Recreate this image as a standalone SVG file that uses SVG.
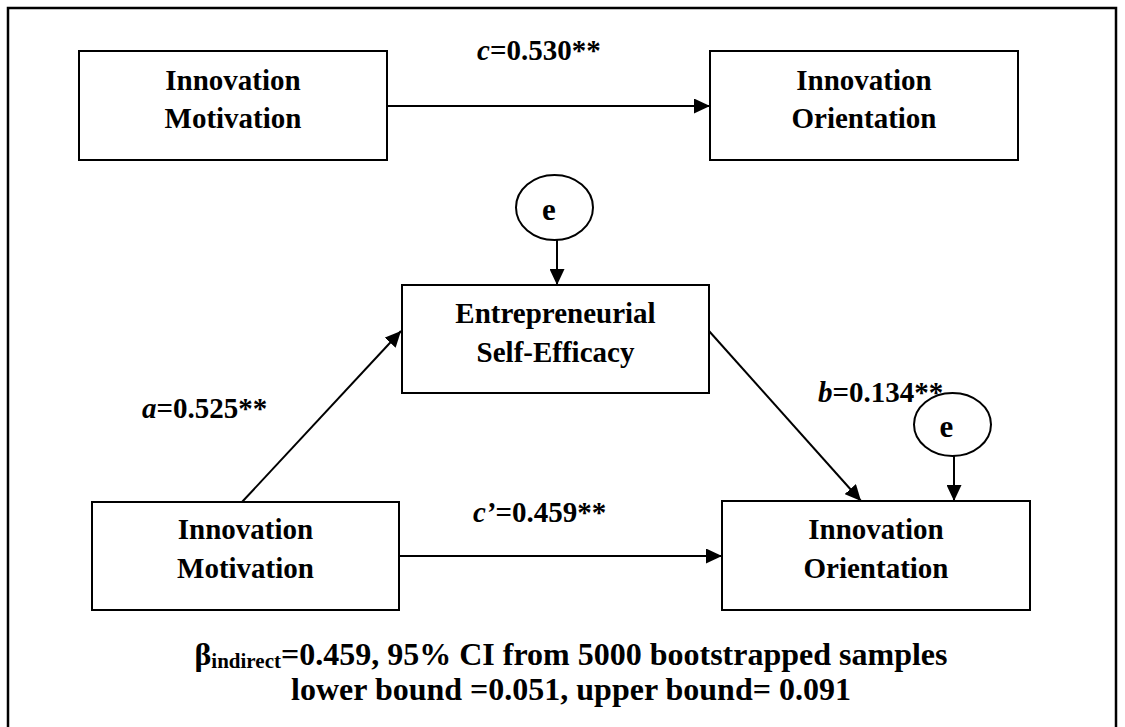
<svg xmlns="http://www.w3.org/2000/svg" width="1125" height="727" viewBox="0 0 1125 727">
<defs>
<marker id="arr" markerUnits="userSpaceOnUse" markerWidth="16" markerHeight="15" refX="16" refY="7.5" orient="auto">
<path d="M0,0 L16,7.5 L0,15 Z" fill="#000"/>
</marker>
<style>
.box{fill:#fff;stroke:#000;stroke-width:2}
.ell{fill:#fff;stroke:#000;stroke-width:2}
.con{stroke:#000;stroke-width:2;fill:none;marker-end:url(#arr)}
text{font-family:"Liberation Serif","Times New Roman",serif;font-weight:bold;fill:#000}
.t{font-size:29px;text-anchor:middle}
.e{font-size:31px;text-anchor:middle}
.lbl{font-size:29px}
.it{font-style:italic}
.note{font-size:32px;text-anchor:middle}
</style>
</defs>
<rect width="1125" height="727" fill="#fff"/>
<rect x="8" y="8" width="1108" height="740" fill="none" stroke="#000" stroke-width="2.5"/>

<g id="connectors">
<line class="con" x1="387" y1="106" x2="710" y2="106"/>
<line class="con" x1="557" y1="240" x2="557" y2="285"/>
<line class="con" x1="242" y1="502" x2="401" y2="331"/>
<line class="con" x1="709" y1="331" x2="861" y2="501"/>
<line class="con" x1="399" y1="556" x2="722" y2="556"/>
<line class="con" x1="954" y1="456" x2="954" y2="501"/>
</g>

<g id="label-c"><text class="lbl" x="477" y="60"><tspan class="it">c</tspan>=0.530**</text></g>
<g id="label-a"><text class="lbl" x="142" y="418"><tspan class="it">a</tspan>=0.525**</text></g>
<g id="label-b"><text class="lbl" x="818" y="402"><tspan class="it">b</tspan>=0.134**</text></g>
<g id="label-cprime"><text class="lbl" x="473" y="522"><tspan class="it">c’</tspan>=0.459**</text></g>

<g id="node-im-top">
<rect class="box" x="79" y="51" width="308" height="109"/>
<text class="t" x="233" y="89.5">Innovation</text>
<text class="t" x="233" y="128">Motivation</text>
</g>
<g id="node-io-top">
<rect class="box" x="710" y="51" width="308" height="109"/>
<text class="t" x="864" y="89.5">Innovation</text>
<text class="t" x="864" y="128">Orientation</text>
</g>
<g id="node-e-top">
<ellipse class="ell" cx="554.5" cy="207.5" rx="38.5" ry="32.5"/>
<text class="e" x="549" y="220">e</text>
</g>
<g id="node-ese">
<rect class="box" x="402" y="285" width="307" height="108"/>
<text class="t" x="555.5" y="323">Entrepreneurial</text>
<text class="t" x="555.5" y="362">Self-Efficacy</text>
</g>
<g id="node-e-right">
<ellipse class="ell" cx="952.5" cy="424.5" rx="38.5" ry="31.5"/>
<text class="e" x="946.5" y="437">e</text>
</g>
<g id="node-im-bottom">
<rect class="box" x="92" y="502" width="307" height="108"/>
<text class="t" x="245.5" y="539">Innovation</text>
<text class="t" x="245.5" y="578">Motivation</text>
</g>
<g id="node-io-bottom">
<rect class="box" x="722" y="501" width="308" height="109"/>
<text class="t" x="876" y="539">Innovation</text>
<text class="t" x="876" y="578">Orientation</text>
</g>

<g id="note">
<text class="note" x="571" y="665">β<tspan font-size="21" dy="3">indirect</tspan><tspan dy="-3">=0.459, 95% CI from 5000 bootstrapped samples</tspan></text>
<text class="note" x="571" y="700">lower bound =0.051, upper bound= 0.091</text>
</g>
</svg>
